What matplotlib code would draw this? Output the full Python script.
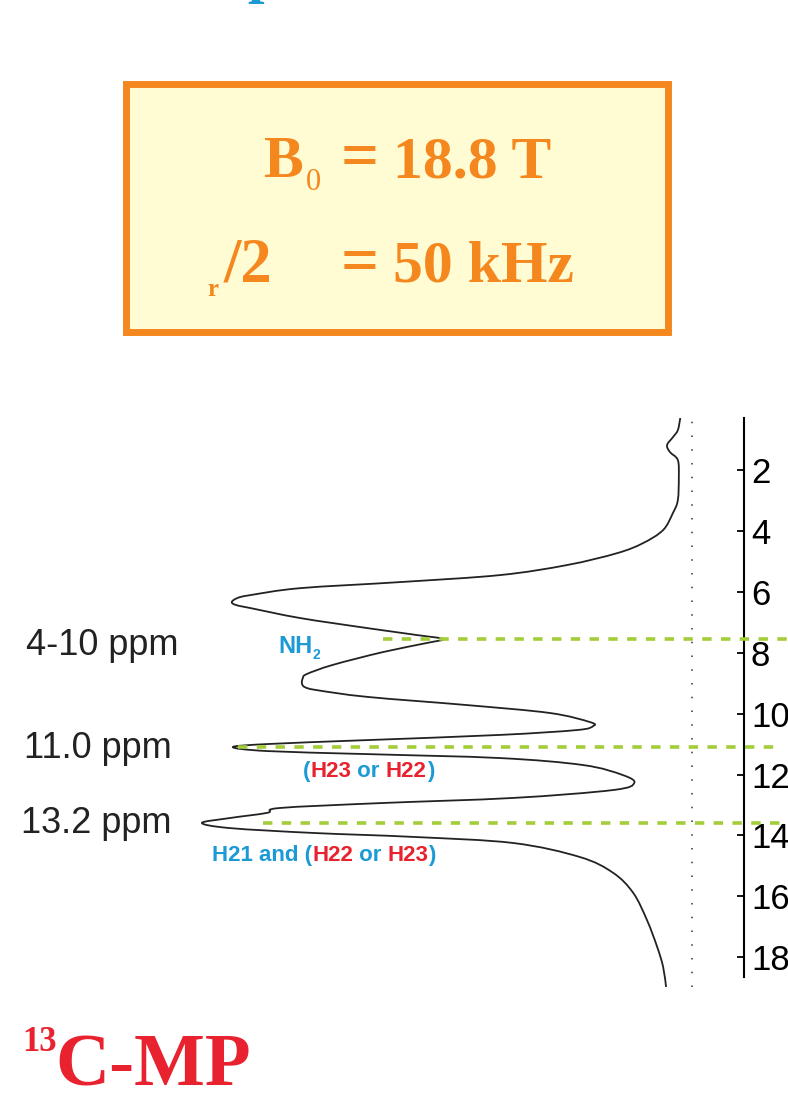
import numpy as np
import matplotlib.pyplot as plt
from matplotlib import font_manager
from matplotlib.patches import Rectangle, PathPatch
from matplotlib.path import Path

# 1H projection of the 2D map: chemical shift (ppm) vs intensity (% of max)
ppm = np.array([0.29, 0.69, 0.92, 1.18, 1.41, 1.67, 2.23, 2.99, 3.41, 3.97,
                4.40, 4.73, 5.12, 5.45, 5.68, 5.88, 6.11, 6.20, 6.33, 6.43,
                6.53, 6.86, 7.19, 7.42, 7.55, 7.68, 7.98, 8.40, 8.70, 8.83,
                9.00, 9.13, 9.23, 9.45, 9.72, 9.98, 10.28, 10.41, 10.54, 10.70,
                10.87, 11.00, 11.10, 11.23, 11.33, 11.46, 11.69, 12.02, 12.28,
                12.51, 12.77, 12.94, 13.10, 13.26, 13.43, 13.59, 13.76, 13.92,
                14.05, 14.25, 14.71, 15.23, 15.89, 16.78, 17.67, 18.32, 18.98])
intensity = np.array([2.4, 2.9, 3.9, 5.1, 4.5, 2.9, 2.7, 2.9, 3.9, 5.9,
                      10.0, 15.3, 25.5, 39.2, 59.6, 80.0, 90.2, 92.7, 93.9, 93.1,
                      90.2, 80.0, 66.3, 56.1, 50.8, 54.1, 63.1, 73.3, 78.6, 79.4,
                      79.6, 79.0, 76.5, 66.3, 45.9, 29.0, 20.8, 20.2, 23.5, 39.2,
                      66.3, 86.7, 93.7, 86.7, 66.3, 39.2, 22.2, 14.1, 11.8,
                      16.1, 36.5, 63.7, 84.1, 86.7, 94.3, 100.0, 94.3, 77.3,
                      56.9, 36.5, 22.9, 16.1, 12.0, 9.2, 7.1, 5.9, 5.3])

shift_ticks = [2, 4, 6, 8, 10, 12, 14, 16, 18]
guide_ppm = [7.55, 11.1, 13.6]
guide_labels = ['4-10 ppm', '11.0 ppm', '13.2 ppm']

BLUE = '#1b9ad6'
RED = '#e8222e'
ORANGE = '#f5871f'
GREEN = '#a3cd39'

installed = {f.name for f in font_manager.fontManager.ttflist}
NARROW = 'Liberation Sans Narrow' if 'Liberation Sans Narrow' in installed else 'Liberation Sans'
SANS = 'Liberation Sans'
SERIF = 'Liberation Serif'

W, H = 788, 1100
fig = plt.figure(figsize=(W / 100, H / 100), dpi=100)


def fx(x):
    return x / W


def fy(y):
    return 1 - y / H


def smooth_path(x, y):
    # Catmull-Rom curve through the points, written as cubic Bezier segments
    pts = np.column_stack([x, y])
    verts = [pts[0]]
    codes = [Path.MOVETO]
    n = len(pts)
    for i in range(n - 1):
        p0 = pts[max(i - 1, 0)]
        p1, p2 = pts[i], pts[i + 1]
        p3 = pts[min(i + 2, n - 1)]
        verts += [p1 + (p2 - p0) / 6, p2 - (p3 - p1) / 6, p2]
        codes += [Path.CURVE4] * 3
    return Path(verts, codes)


# ---- spectrum, shift axis on the right, intensity growing to the left ----
ax = fig.add_axes([0, fy(987), fx(744), (987 - 418) / H])
ax.add_patch(PathPatch(smooth_path(intensity, ppm), fill=False,
                       edgecolor='#222222', lw=1.3))
ax.axvline(0, color='#333333', lw=1.1, ls=(0, (1, 8)))
ax.set_xlim(141.2, -10.6)
ax.set_ylim(18.98, 0.29)

for s in ['left', 'top', 'bottom']:
    ax.spines[s].set_visible(False)
ax.spines['right'].set_linewidth(1.5)
ax.spines['right'].set_bounds(18.65, 0.29)
ax.set_xticks([])
ax.yaxis.tick_right()
ax.set_yticks(shift_ticks)
ax.set_yticklabels([str(t) for t in shift_ticks])
ax.tick_params(axis='y', direction='in', length=5, width=1.3, pad=5, labelsize=25)
for lab in ax.get_yticklabels():
    lab.set_fontfamily(SANS)

# dashed guides through the assigned peaks
guide_start = [63.1, 92.7, 87.6]
guide_end = [-19.8, -17.3, -18.4]
for p, x0, x1 in zip(guide_ppm, guide_start, guide_end):
    ax.plot([x0, x1], [p, p], color=GREEN, lw=2.6, ls=(0, (2.6, 2.6)),
            clip_on=False, zorder=3)

# shift labels on the left
label_pos = [(26, 655), (24, 758), (21, 833)]
for (x, y), txt in zip(label_pos, guide_labels):
    fig.text(fx(x), fy(y), txt, fontsize=26, family=SANS, color='#222222',
             va='baseline', ha='left')


def colored_text(x, y, parts, size):
    t = fig.text(fx(x), fy(y), parts[0][0], color=parts[0][1], fontsize=size,
                 family=NARROW, weight='bold', va='bottom')
    for s, c in parts[1:]:
        t = ax.annotate(s, xy=(1, 0), xycoords=t, va='bottom', ha='left',
                        color=c, fontsize=size, family=NARROW, weight='bold',
                        annotation_clip=False)
    return t


nh = fig.text(fx(278), fy(658), 'NH', color=BLUE, fontsize=17, family=NARROW,
              weight='bold', va='bottom')
ax.annotate('2', xy=(1, 0), xycoords=nh, xytext=(0, -3), textcoords='offset points',
            va='bottom', ha='left', color=BLUE, fontsize=10, family=NARROW,
            weight='bold', annotation_clip=False)

colored_text(303, 782, [('(', BLUE), ('H23', RED), (' or ', BLUE), ('H22', RED), (')', BLUE)], 16)
colored_text(212, 866, [('H21 and (', BLUE), ('H22', RED), (' or ', BLUE), ('H23', RED), (')', BLUE)], 16)

# ---- field / spinning box ----
fig.add_artist(Rectangle((fx(126), fy(332)), (668 - 126) / W, (332 - 84) / H,
                         transform=fig.transFigure, facecolor='#fffbd3',
                         edgecolor=ORANGE, lw=5))
big = dict(fontsize=43, family=SERIF, weight='bold', color=ORANGE, va='baseline')
small = dict(fontsize=22, family=SERIF, color=ORANGE, va='baseline')
fig.text(fx(263), fy(177), 'B', ha='left', **big)
fig.text(fx(306), fy(190), '0', ha='left', **small)
fig.text(fx(360), fy(177), '=', ha='center', fontsize=48, family=SERIF,
         weight='bold', color=ORANGE, va='baseline')
fig.text(fx(393), fy(177), '18.8 T', ha='left', **big)

fig.text(fx(207), fy(296), 'r', ha='left', fontsize=18, family=SERIF,
         weight='bold', color=ORANGE, va='baseline')
fig.text(fx(224), fy(282), '/2', ha='left', fontsize=45, family=SERIF,
         weight='bold', color=ORANGE, va='baseline')
fig.text(fx(360), fy(282), '=', ha='center', fontsize=48, family=SERIF,
         weight='bold', color=ORANGE, va='baseline')
fig.text(fx(393), fy(282), '50 kHz', ha='left', **big)

# heading above, cut by the top edge
fig.text(fx(247), fy(-9), 'p', ha='left', fontsize=43, family=SERIF,
         weight='bold', color=BLUE, va='baseline')

# sample name
fig.text(fx(22), fy(1051), '13', ha='left', fontsize=25, family=SERIF,
         weight='bold', color=RED, va='baseline')
fig.text(fx(55), fy(1086), 'C-MP', ha='left', fontsize=54, family=SERIF,
         weight='bold', color=RED, va='baseline')

fig.savefig('out.png', dpi=100)
